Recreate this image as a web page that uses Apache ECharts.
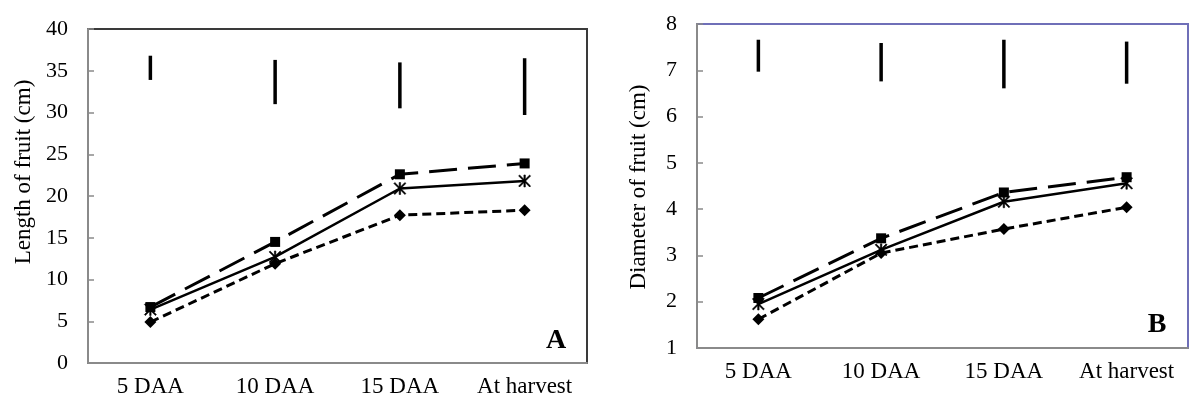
<!DOCTYPE html>
<html lang="en">
<head>
    <meta charset="UTF-8">
    <title>Fruit length and diameter</title>
    <style>
        html, body {
            margin: 0;
            padding: 0;
            background: #fff;
        }
        #chart-box {
            width: 1190px;
            height: 401px;
        }
    </style>
</head>
<body>
<div id="chart-box"></div>
<script src="https://cdn.jsdelivr.net/npm/echarts@6/dist/echarts.min.js"></script>
<script>
    // data
    var stages = ['5 DAA', '10 DAA', '15 DAA', 'At harvest'];

    // A: length of fruit (cm)
    var lenSquare  = [6.7, 14.5, 22.6, 23.9];
    var lenStar    = [6.4, 12.7, 20.9, 21.8];
    var lenDiamond = [4.9, 11.9, 17.7, 18.3];
    var lenBarTop    = [36.8, 36.3, 36.0, 36.5];
    var lenBarBottom = [33.9, 31.0, 30.5, 29.7];

    // B: diameter of fruit (cm)
    var diaSquare  = [2.08, 3.37, 4.36, 4.69];
    var diaStar    = [1.95, 3.12, 4.16, 4.56];
    var diaDiamond = [1.62, 3.05, 3.57, 4.04];
    var diaBarTop    = [7.66, 7.59, 7.66, 7.62];
    var diaBarBottom = [6.97, 6.76, 6.61, 6.71];

    var lenTicks = {min: 0, max: 40, interval: 5};
    var diaTicks = {min: 1, max: 8, interval: 1};

    var serif = '"Liberation Serif", "Times New Roman", serif';
    var asterisk = 'path://M4.4 0L5.6 0L5.6 10L4.4 10Z M0.8 0L10 9.2L9.2 10L0 0.8Z M9.2 0L10 0.8L0.8 10L0 9.2Z';

    var myChart = echarts.init(document.getElementById('chart-box'));

    function xAxisFor(idx) {
        return {
            type: 'category',
            gridIndex: idx,
            data: stages,
            axisLine: {lineStyle: {color: '#8a8a8a', width: 2}},
            axisTick: {inside: true, length: 6, lineStyle: {color: '#8a8a8a', width: 1.5}},
            axisLabel: {color: '#000', fontFamily: serif, fontSize: 23, margin: 12, interval: 0},
            splitLine: {show: false}
        };
    }

    function yAxisFor(idx, ticks) {
        return {
            type: 'value',
            gridIndex: idx,
            min: ticks.min,
            max: ticks.max,
            interval: ticks.interval,
            axisLine: {show: true, lineStyle: {color: '#8a8a8a', width: 2}},
            axisTick: {show: true, inside: true, length: 6, lineStyle: {color: '#8a8a8a', width: 1.5}},
            axisLabel: {color: '#000', fontFamily: serif, fontSize: 22, margin: 20},
            splitLine: {show: false}
        };
    }

    function lineSeries(idx, values, dash, symbol, size, width) {
        return {
            type: 'line',
            xAxisIndex: idx,
            yAxisIndex: idx,
            data: values,
            symbol: symbol,
            symbolSize: size,
            showAllSymbol: true,
            lineStyle: {color: '#000', width: width, type: dash},
            itemStyle: {color: '#000', borderColor: '#000', borderWidth: symbol === asterisk ? 0.6 : 0},
            z: 3
        };
    }

    function barSeries(idx, tops, bottoms) {
        var rows = tops.map(function (t, i) { return [i, t, bottoms[i]]; });
        return {
            type: 'custom',
            xAxisIndex: idx,
            yAxisIndex: idx,
            data: rows,
            renderItem: function (params, api) {
                var p1 = api.coord([api.value(0), api.value(1)]);
                var p2 = api.coord([api.value(0), api.value(2)]);
                return {
                    type: 'line',
                    shape: {x1: p1[0], y1: p1[1], x2: p2[0], y2: p2[1]},
                    style: {stroke: '#000', lineWidth: 3.5}
                };
            },
            z: 3
        };
    }

    var option = {
        animation: false,
        grid: [
            {left: 88, top: 29, width: 499, height: 334, show: true, borderColor: '#3a3a3a', borderWidth: 2},
            {left: 697, top: 24, width: 491, height: 324, show: true, borderColor: '#6f6fb8', borderWidth: 2}
        ],
        xAxis: [xAxisFor(0), xAxisFor(1)],
        yAxis: [yAxisFor(0, lenTicks), yAxisFor(1, diaTicks)],
        graphic: [
            {type: 'text', x: 24, y: 172, rotation: Math.PI / 2,
             style: {text: 'Length of fruit (cm)', font: '23px ' + serif, fill: '#000',
                     textAlign: 'center', textVerticalAlign: 'middle'}},
            {type: 'text', x: 639, y: 187, rotation: Math.PI / 2,
             style: {text: 'Diameter of fruit (cm)', font: '23px ' + serif, fill: '#000',
                     textAlign: 'center', textVerticalAlign: 'middle'}},
            {type: 'text', x: 556, y: 341,
             style: {text: 'A', font: 'bold 28px ' + serif, fill: '#000',
                     textAlign: 'center', textVerticalAlign: 'middle'}},
            {type: 'text', x: 1157, y: 325,
             style: {text: 'B', font: 'bold 28px ' + serif, fill: '#000',
                     textAlign: 'center', textVerticalAlign: 'middle'}}
        ],
        series: [
            lineSeries(0, lenSquare, [28, 11], 'rect', 10, 3),
            lineSeries(0, lenStar, 'solid', asterisk, 12, 2.5),
            lineSeries(0, lenDiamond, [9, 5], 'diamond', 12, 3),
            barSeries(0, lenBarTop, lenBarBottom),
            lineSeries(1, diaSquare, [28, 11], 'rect', 10, 3),
            lineSeries(1, diaStar, 'solid', asterisk, 12, 2.5),
            lineSeries(1, diaDiamond, [9, 5], 'diamond', 12, 3),
            barSeries(1, diaBarTop, diaBarBottom)
        ]
    };

    myChart.setOption(option);
</script>
</body>
</html>
